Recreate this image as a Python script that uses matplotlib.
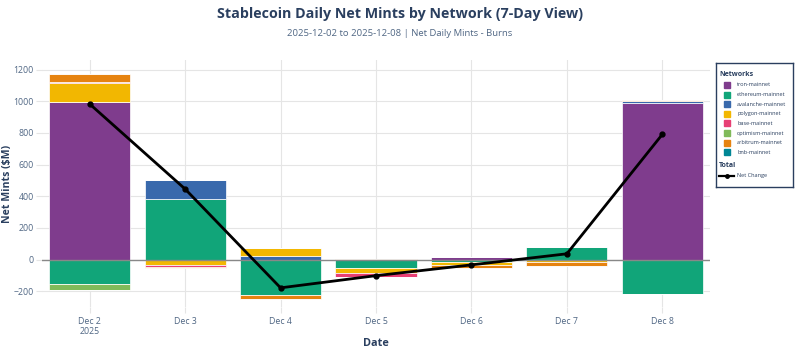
import numpy as np
import matplotlib.pyplot as plt
from matplotlib.patches import Rectangle

# ── data (values in $M) ─────────────────────────────────────────────────
dates = ['Dec 2\n2025', 'Dec 3', 'Dec 4', 'Dec 5', 'Dec 6', 'Dec 7', 'Dec 8']
networks = ['tron-mainnet', 'ethereum-mainnet', 'avalanche-mainnet', 'polygon-mainnet',
            'base-mainnet', 'optimism-mainnet', 'arbitrum-mainnet', 'bnb-mainnet']

tron      = [995,    0,    0,   -5,  17,  -5,  990]
ethereum  = [-154, 384, -225,  -50, -15,  76, -217]
avalanche = [0,    116,   23,    0,   0,   0,    8]
polygon   = [117,  -35,   48,  -28, -17, -10,    4]
base      = [10,   -10,    0,  -25,   0,   0,    0]
optimism  = [-36,    0,    0,    0,   0,   0,    0]
arbitrum  = [50,   -10,  -25,    6, -19, -25,    5]
bnb       = [0,      0,    0,    0,   0,   0,    0]

series = [tron, ethereum, avalanche, polygon, base, optimism, arbitrum, bnb]
colors = ['#7F3C8D', '#11A579', '#3969AC', '#F2B701',
          '#E73F74', '#80BA5A', '#E68310', '#008695']

NAVY = '#2a3f5f'
TICK = '#506784'

plt.rcParams['font.family'] = ['Open Sans', 'DejaVu Sans']

W, H = 800, 351
fig = plt.figure(figsize=(W / 100, H / 100), dpi=100)
ax = fig.add_axes([42 / W, 1 - 307 / H, 668 / W, 247 / H])

x = np.arange(len(dates))
pos_base = np.zeros(len(dates))
neg_base = np.zeros(len(dates))

# relative stacking: positives up, negatives down, in trace order
for vals, color in zip(series, colors):
    v = np.array(vals, dtype=float)
    pos = np.where(v > 0, v, 0)
    neg = np.where(v < 0, v, 0)
    ax.bar(x, pos, 0.85, bottom=pos_base, color=color, edgecolor='white',
           linewidth=0.5, zorder=3)
    ax.bar(x, neg, 0.85, bottom=neg_base, color=color, edgecolor='white',
           linewidth=0.5, zorder=3)
    pos_base += pos
    neg_base += neg

net = np.sum(np.array(series, dtype=float), axis=0)
ax.plot(x, net, color='black', linewidth=2, marker='o', markersize=3.5, zorder=5)

ax.axhline(0, color='#888888', linewidth=1, zorder=4)

ax.set_xlim(-0.5, 6.5)
ax.set_ylim(-300, 1260)
ax.set_yticks([-200, 0, 200, 400, 600, 800, 1000, 1200])
ax.set_yticklabels(['\u2212200', '0', '200', '400', '600', '800', '1000', '1200'])
ax.set_xticks(x)
ax.set_xticklabels(dates, linespacing=1.25)
ax.grid(True, color='#e5e5e5', linewidth=0.8, zorder=0)
ax.set_axisbelow(True)
for s in ax.spines.values():
    s.set_visible(False)
ax.tick_params(axis='both', length=4, width=0.8, color='#e5e5e5',
               labelsize=6.3, labelcolor=TICK, pad=2)
ax.tick_params(axis='x', pad=3)

ax.set_ylabel('Net Mints ($M)', fontsize=7.6, fontweight='bold', color=NAVY)
ax.yaxis.set_label_coords(-0.044, 0.5)
ax.set_xlabel('Date', fontsize=7.8, fontweight='bold', color=NAVY)
ax.xaxis.set_label_coords(0.5, -0.125)

fig.text(0.5, 1 - 14 / H, 'Stablecoin Daily Net Mints by Network (7-Day View)',
         ha='center', va='center', fontsize=10.3, fontweight='bold', color=NAVY)
fig.text(0.5, 1 - 33 / H, '2025-12-02 to 2025-12-08 | Net Daily Mints - Burns',
         ha='center', va='center', fontsize=6.8, color=TICK)

# legend drawn in a pixel-coordinate box
lg = fig.add_axes([716 / W, 1 - 187 / H, 77 / W, 124 / H])
lg.set_xlim(0, 77)
lg.set_ylim(124, 0)
lg.set_xticks([])
lg.set_yticks([])
for s in lg.spines.values():
    s.set_color(NAVY)
    s.set_linewidth(1)

lg.text(3, 11, 'Networks', fontsize=5, fontweight='bold', color=NAVY, va='center')
for i, (name, c) in enumerate(zip(networks, colors)):
    yy = 22 + i * 9.6
    lg.add_patch(Rectangle((8, yy - 3), 6, 6, color=c))
    lg.text(21, yy, name, fontsize=4, color=NAVY, va='center')
lg.text(3, 103, 'Total', fontsize=5, fontweight='bold', color=NAVY, va='center')
lg.plot([3, 18], [113, 113], color='black', linewidth=1.6)
lg.plot([10.5], [113], color='black', marker='o', markersize=2.5)
lg.text(21, 113, 'Net Change', fontsize=4, color=NAVY, va='center')

fig.savefig('out.png', dpi=100)
